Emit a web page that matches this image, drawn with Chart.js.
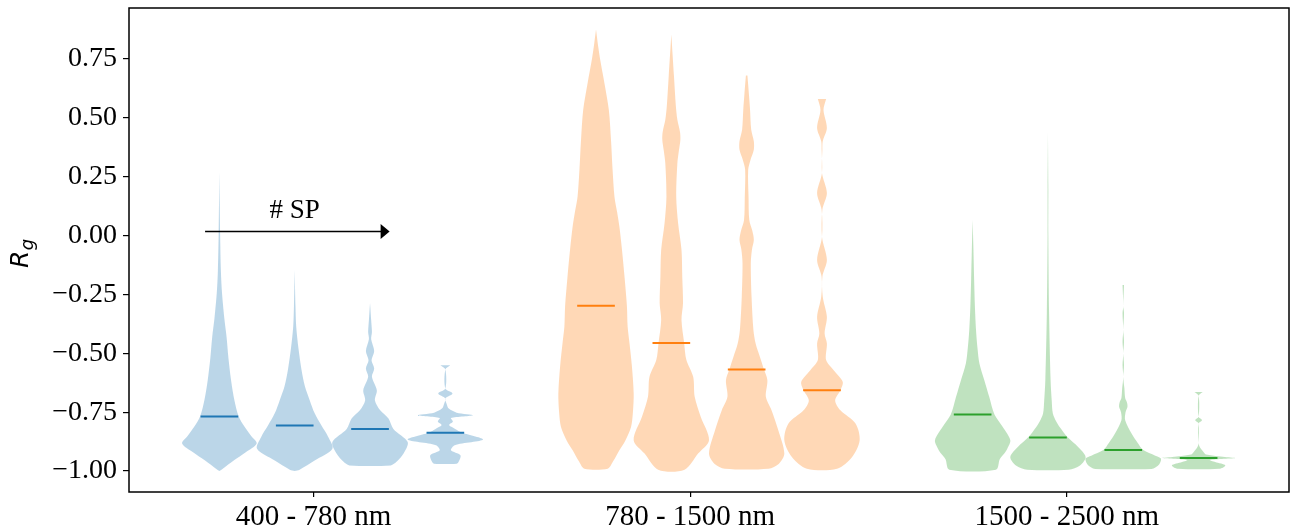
<!DOCTYPE html>
<html>
<head>
<meta charset="utf-8">
<script src="https://cdn.jsdelivr.net/npm/chart.js@4.4.1/dist/chart.umd.min.js"></script>
<style>
  html, body { margin: 0; padding: 0; background: #fff; }
  #wrap { width: 1293px; height: 527px; }
</style>
</head>
<body>
<div id="wrap"><canvas id="violins" width="1293" height="527"></canvas></div>
<script>
// wavelength ranges on the x axis
const groups = ["400 - 780 nm", "780 - 1500 nm", "1500 - 2500 nm"];
const yTicks = [-1.0, -0.75, -0.5, -0.25, 0, 0.25, 0.5, 0.75];

// median R_g per violin (4 per range, # SP increasing to the right)
const visMedians = [-0.768, -0.807, -0.821, -0.837];
const nirMedians = [-0.298, -0.456, -0.569, -0.657];
const swirMedians = [-0.760, -0.858, -0.911, -0.945];

// violin outlines: [R_g, relative half width], top to bottom
const visProfiles = [
    [[0.27,0],[0.0,0.02],[-0.15,0.04],[-0.245,0.07],[-0.35,0.13],[-0.43,0.19],[-0.52,0.24],[-0.614,0.31],[-0.70,0.40],[-0.767,0.51],[-0.81,0.66],[-0.85,0.84],[-0.883,0.99],[-0.92,0.70],[-0.955,0.38],[-0.99,0.09],[-1.0,0]],
    [[-0.146,0],[-0.3,0.02],[-0.387,0.04],[-0.48,0.10],[-0.57,0.18],[-0.64,0.27],[-0.70,0.40],[-0.755,0.53],[-0.807,0.71],[-0.855,0.89],[-0.905,1.0],[-0.955,0.53],[-0.994,0.13],[-1.0,0]],
    [[-0.288,0],[-0.36,0.03],[-0.41,0.05],[-0.44,0.03],[-0.49,0.11],[-0.53,0.04],[-0.565,0.11],[-0.60,0.05],[-0.657,0.18],[-0.70,0.13],[-0.742,0.27],[-0.777,0.49],[-0.821,0.62],[-0.877,1.0],[-0.926,0.89],[-0.96,0.71],[-0.976,0.55]],
    [[-0.551,0.13],[-0.569,0],[-0.65,0],[-0.671,0.19],[-0.692,0],[-0.713,0.03],[-0.735,0.09],[-0.752,0.30],[-0.763,0.73],[-0.775,0.15],[-0.79,0.20],[-0.805,0.10],[-0.82,0.25],[-0.837,0.45],[-0.866,1.0],[-0.89,0.25],[-0.912,0.15],[-0.933,0.40],[-0.962,0.35],[-0.969,0.30]]
];
const nirProfiles = [
    [[0.875,0],[0.80,0.06],[0.747,0.11],[0.65,0.22],[0.534,0.34],[0.40,0.40],[0.279,0.44],[0.165,0.49],[0.10,0.56],[0.038,0.62],[-0.061,0.69],[-0.18,0.76],[-0.298,0.82],[-0.387,0.84],[-0.458,0.89],[-0.55,0.95],[-0.671,1.0],[-0.75,0.98],[-0.813,0.93],[-0.87,0.78],[-0.912,0.62],[-0.96,0.45],[-0.99,0.31]],
    [[0.853,0],[0.676,0.07],[0.55,0.12],[0.492,0.16],[0.44,0.23],[0.407,0.24],[0.36,0.20],[0.307,0.16],[0.165,0.13],[0.052,0.18],[-0.061,0.27],[-0.175,0.29],[-0.288,0.31],[-0.359,0.27],[-0.456,0.34],[-0.529,0.40],[-0.60,0.58],[-0.685,0.62],[-0.77,0.78],[-0.869,1.0],[-0.926,0.71],[-0.994,0.35]],
    [[0.679,0.02],[0.60,0.06],[0.534,0.09],[0.45,0.12],[0.40,0.19],[0.364,0.19],[0.32,0.10],[0.279,0.04],[0.165,0.05],[0.066,0.07],[0.02,0.15],[-0.019,0.19],[-0.06,0.14],[-0.118,0.11],[-0.26,0.13],[-0.402,0.18],[-0.46,0.24],[-0.515,0.35],[-0.569,0.46],[-0.614,0.55],[-0.685,0.51],[-0.742,0.66],[-0.827,0.84],[-0.926,1.0],[-0.97,0.85],[-0.99,0.58]],
    [[0.58,0.11],[0.534,0.04],[0.456,0.13],[0.40,0.02],[0.364,0.01],[0.265,0],[0.18,0.13],[0.109,0.01],[-0.005,0],[-0.104,0.13],[-0.175,0.01],[-0.26,0.02],[-0.345,0.13],[-0.416,0.07],[-0.458,0.13],[-0.529,0.11],[-0.572,0.31],[-0.621,0.55],[-0.657,0.49],[-0.70,0.35],[-0.742,0.49],[-0.798,0.89],[-0.869,1.0],[-0.94,0.80],[-0.99,0.40]]
];
const swirProfiles = [
    [[0.066,0],[-0.05,0.02],[-0.189,0.04],[-0.30,0.06],[-0.402,0.09],[-0.48,0.13],[-0.543,0.18],[-0.614,0.31],[-0.685,0.44],[-0.76,0.58],[-0.813,0.80],[-0.869,1.0],[-0.905,0.92],[-0.926,0.84],[-0.95,0.72],[-0.994,0.62]],
    [[0.44,0],[0.2,0.01],[0.0,0.01],[-0.331,0.03],[-0.614,0.07],[-0.70,0.10],[-0.756,0.13],[-0.79,0.22],[-0.813,0.31],[-0.858,0.53],[-0.898,0.80],[-0.94,1.0],[-0.976,0.85],[-0.994,0.55]],
    [[-0.21,0.02],[-0.30,0],[-0.33,0.02],[-0.40,0],[-0.45,0.02],[-0.50,0],[-0.55,0.02],[-0.60,0],[-0.65,0.03],[-0.69,0.05],[-0.71,0.10],[-0.728,0.11],[-0.75,0.06],[-0.784,0.05],[-0.841,0.22],[-0.88,0.38],[-0.911,0.53],[-0.935,0.85],[-0.947,1.0],[-0.97,0.96],[-0.985,0.85],[-0.991,0.75]],
    [[-0.664,0.11],[-0.68,0],[-0.77,0],[-0.784,0.09],[-0.798,0],[-0.88,0],[-0.898,0.03],[-0.919,0.13],[-0.93,0.20],[-0.94,0.70],[-0.945,1.0],[-0.953,0.30],[-0.962,0.44],[-0.976,0.71],[-0.99,0.55]]
];

const allProfiles = [visProfiles, nirProfiles, swirProfiles];
const allMedians = [visMedians, nirMedians, swirMedians];

// matplotlib C0/C1/C2
const lineColors = ["#1f77b4", "#ff7f0e", "#2ca02c"];
const fillColors = ["rgba(31,119,180,0.3)", "rgba(255,127,14,0.3)", "rgba(44,160,44,0.3)"];

const GROUP_STEP = 5;   // distance between ranges, in violin slots
const TICK_OFFSET = 1.25;
const HALF = 0.5;       // half of the max violin width

// the "# SP" annotation, in data coords
const spArrow = { x0: -0.19, x1: 2.26, y: 0.017, text: "# SP", tx: 1.0, ty: 0.074 };

const datasets = [];
allProfiles.forEach((profiles, g) => {
    profiles.forEach((prof, j) => {
        const c = g * GROUP_STEP + j;
        const right = prof.map(([y, w]) => ({ x: c + w * HALF, y: y }));
        const left = prof.slice().reverse().map(([y, w]) => ({ x: c - w * HALF, y: y }));
        datasets.push({
            data: right.concat(left),
            showLine: true,
            fill: "shape",
            backgroundColor: fillColors[g],
            borderColor: "transparent",
            borderWidth: 0,
            pointRadius: 0,
            tension: 0.3,
            order: 2
        });
        const m = allMedians[g][j];
        datasets.push({
            data: [{ x: c - HALF / 2, y: m }, { x: c + HALF / 2, y: m }],
            showLine: true,
            fill: false,
            borderColor: lineColors[g],
            borderWidth: 2,
            pointRadius: 0,
            order: 1
        });
    });
});

const serif = "'Liberation Serif', 'Times New Roman', serif";

// frame, y label and the # SP arrow
const extras = {
    id: "extras",
    afterDraw(chart) {
        const { ctx, chartArea: a, scales } = chart;
        const sx = scales.x, sy = scales.y;
        ctx.save();
        ctx.strokeStyle = "#000";
        ctx.lineWidth = 1.5;
        ctx.strokeRect(a.left, a.top, a.right - a.left, a.bottom - a.top);

        // arrow
        const ax0 = sx.getPixelForValue(spArrow.x0);
        const ax1 = sx.getPixelForValue(spArrow.x1);
        const ay = sy.getPixelForValue(spArrow.y);
        ctx.lineWidth = 1.6;
        ctx.beginPath();
        ctx.moveTo(ax0, ay);
        ctx.lineTo(ax1 - 8, ay);
        ctx.stroke();
        ctx.fillStyle = "#000";
        ctx.beginPath();
        ctx.moveTo(ax1, ay);
        ctx.lineTo(ax1 - 9, ay - 7.5);
        ctx.lineTo(ax1 - 9, ay + 7.5);
        ctx.closePath();
        ctx.fill();

        ctx.font = "27px " + serif;
        ctx.textAlign = "center";
        ctx.textBaseline = "alphabetic";
        ctx.fillText(spArrow.text, sx.getPixelForValue(spArrow.tx), sy.getPixelForValue(spArrow.ty));

        // y label R_g
        ctx.translate(28, 268);
        ctx.rotate(-Math.PI / 2);
        ctx.textAlign = "left";
        ctx.font = "italic 25px 'DejaVu Sans'";
        ctx.fillText("R", 0, 0);
        const rw = ctx.measureText("R").width;
        ctx.font = "italic 18px 'DejaVu Sans'";
        ctx.fillText("g", rw + 0.5, 5);
        ctx.restore();
    }
};

new Chart(document.getElementById("violins"), {
    type: "scatter",
    data: { datasets: datasets },
    options: {
        responsive: false,
        animation: false,
        devicePixelRatio: 1,
        layout: { padding: { top: 8, right: 4, left: 0, bottom: 0 } },
        plugins: { legend: { display: false }, tooltip: { enabled: false } },
        scales: {
            x: {
                type: "linear",
                min: -1.2,
                max: 14.2,
                afterBuildTicks: (s) => {
                    s.ticks = groups.map((_, g) => ({ value: g * GROUP_STEP + TICK_OFFSET }));
                },
                afterFit: (s) => { s.height = 35; s.paddingLeft = 0; s.paddingRight = 0; },
                ticks: {
                    autoSkip: false,
                    maxRotation: 0,
                    padding: 3,
                    color: "#000",
                    font: { family: serif, size: 29 },
                    callback: (v, i) => groups[i]
                },
                grid: { drawOnChartArea: false, drawTicks: true, tickLength: 5, color: "#000", lineWidth: 1.2 },
                border: { display: false }
            },
            y: {
                min: -1.089,
                max: 0.966,
                afterBuildTicks: (s) => {
                    s.ticks = yTicks.map((v) => ({ value: v }));
                },
                afterFit: (s) => { s.width = 129; s.paddingTop = 0; s.paddingBottom = 0; },
                ticks: {
                    padding: 6,
                    color: "#000",
                    font: { family: serif, size: 28 },
                    callback: (v) => (v < 0 ? "\u2212" : "") + Math.abs(v).toFixed(2)
                },
                grid: { drawOnChartArea: false, drawTicks: true, tickLength: 6, color: "#000", lineWidth: 1.2 },
                border: { display: false }
            }
        }
    },
    plugins: [extras]
});
</script>
</body>
</html>
